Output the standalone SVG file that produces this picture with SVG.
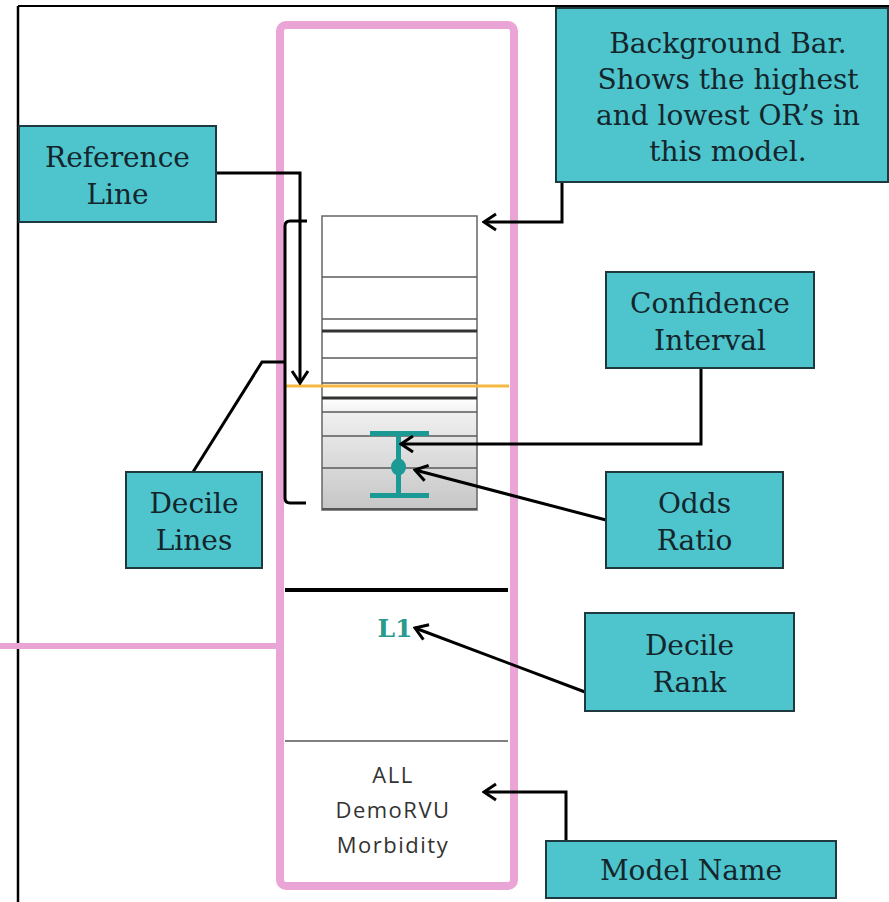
<svg xmlns="http://www.w3.org/2000/svg" width="889" height="902" viewBox="0 0 889 902">
<defs>
<style>
.box{fill:#4ec4cc;stroke:#1e3a40;stroke-width:2}
.lbl{font-family:"DejaVu Serif","Liberation Serif",serif;font-size:28px;fill:#14262c;text-anchor:middle}
.con{fill:none;stroke:#000;stroke-width:3}
.dl{stroke:#5a5a5a;stroke-width:1.5}
.dlt{stroke:#333;stroke-width:3}
.ci{fill:#1b9a95;stroke:none}
.mdl{font-family:"Open Sans","Liberation Sans",sans-serif;font-size:22px;letter-spacing:1.5px;fill:#333;text-anchor:middle}
</style>
<linearGradient id="barg" x1="0" y1="0" x2="0" y2="1">
<stop offset="0" stop-color="#ffffff"/>
<stop offset="0.62" stop-color="#ffffff"/>
<stop offset="0.68" stop-color="#eeeeee"/>
<stop offset="1" stop-color="#c6c6c6"/>
</linearGradient>
<marker id="arr" markerUnits="userSpaceOnUse" viewBox="0 0 16 20" refX="14" refY="10" markerWidth="16" markerHeight="20" orient="auto">
<path d="M2,2 L14,10 L2,18" fill="none" stroke="#000" stroke-width="3"/>
</marker>
</defs>
<rect width="889" height="902" fill="#fff"/>
<g id="frame">
<line x1="18" y1="6" x2="889" y2="6" stroke="#000" stroke-width="2"/>
<line x1="18" y1="6" x2="18" y2="902" stroke="#000" stroke-width="2.5"/>
</g>
<g id="panel">
<line x1="0" y1="646" x2="280" y2="646" stroke="#eba4d6" stroke-width="6"/>
<rect x="280" y="25" width="234" height="861" rx="6" fill="none" stroke="#eba4d6" stroke-width="8"/>
<rect id="bar" x="322" y="216" width="155" height="294" fill="url(#barg)" stroke="#666" stroke-width="1.5"/>
<line class="dl" x1="322" y1="277" x2="477" y2="277"/>
<line class="dl" x1="322" y1="319" x2="477" y2="319"/>
<line class="dlt" x1="322" y1="331" x2="477" y2="331"/>
<line class="dl" x1="322" y1="358" x2="477" y2="358"/>
<line class="dl" x1="322" y1="383" x2="477" y2="383"/>
<line class="dlt" x1="322" y1="398" x2="477" y2="398"/>
<line class="dl" x1="322" y1="412" x2="477" y2="412"/>
<line class="dl" x1="322" y1="436" x2="477" y2="436"/>
<line class="dl" x1="322" y1="468" x2="477" y2="468"/>
<line x1="322" y1="509" x2="477" y2="509" stroke="#555" stroke-width="2"/>
<line x1="286" y1="386" x2="509" y2="386" stroke="#f5b842" stroke-width="3"/>
<g id="ci">
<rect class="ci" x="370" y="431" width="59" height="5"/>
<rect class="ci" x="396" y="433" width="5" height="62"/>
<rect class="ci" x="370" y="493" width="59" height="5"/>
<ellipse class="ci" cx="398.5" cy="467" rx="7.5" ry="8.5"/>
</g>
<line x1="285" y1="590" x2="508" y2="590" stroke="#000" stroke-width="4"/>
<line x1="285" y1="741" x2="508" y2="741" stroke="#555" stroke-width="1.5"/>
<text x="395" y="637" font-family="DejaVu Serif, Liberation Serif, serif" font-size="25" font-weight="bold" fill="#2a9a8f" text-anchor="middle">L1</text>
<text class="mdl" x="393" y="783">ALL</text>
<text class="mdl" x="393" y="818">DemoRVU</text>
<text class="mdl" x="393" y="853">Morbidity</text>
</g>
<g id="connectors">
<path class="con" d="M216,173 H300 V383" marker-end="url(#arr)"/>
<path class="con" d="M307,221 H290 Q285,221 285,226 V498 Q285,503 290,503 H306"/>
<path class="con" d="M193,472 L262,362 H285"/>
<path class="con" d="M562,182 V222 H484" marker-end="url(#arr)"/>
<path class="con" d="M701,368 V444 H401" marker-end="url(#arr)"/>
<path class="con" d="M606,520 L415,470" marker-end="url(#arr)"/>
<path class="con" d="M585,692 L415,628" marker-end="url(#arr)"/>
<path class="con" d="M566,841 V792 H484" marker-end="url(#arr)"/>
</g>
<g id="n-reference">
<rect class="box" x="19" y="126" width="197" height="96"/>
<text class="lbl" x="117.5" y="167">Reference</text>
<text class="lbl" x="117.5" y="204">Line</text>
</g>
<g id="n-background">
<rect class="box" x="556" y="8" width="332" height="174"/>
<text class="lbl" x="728" y="53">Background Bar.</text>
<text class="lbl" x="728" y="89">Shows the highest</text>
<text class="lbl" x="728" y="125">and lowest  OR’s in</text>
<text class="lbl" x="728" y="161">this model.</text>
</g>
<g id="n-ci">
<rect class="box" x="606" y="272" width="208" height="96"/>
<text class="lbl" x="710" y="313">Confidence</text>
<text class="lbl" x="710" y="350">Interval</text>
</g>
<g id="n-decilelines">
<rect class="box" x="126" y="472" width="136" height="96"/>
<text class="lbl" x="194" y="513">Decile</text>
<text class="lbl" x="194" y="550">Lines</text>
</g>
<g id="n-odds">
<rect class="box" x="606" y="472" width="177" height="96"/>
<text class="lbl" x="694.5" y="513">Odds</text>
<text class="lbl" x="694.5" y="550">Ratio</text>
</g>
<g id="n-decilerank">
<rect class="box" x="585" y="613" width="209" height="98"/>
<text class="lbl" x="689.5" y="655">Decile</text>
<text class="lbl" x="689.5" y="692">Rank</text>
</g>
<g id="n-model">
<rect class="box" x="546" y="841" width="290" height="57"/>
<text class="lbl" x="691" y="880">Model Name</text>
</g>
</svg>
